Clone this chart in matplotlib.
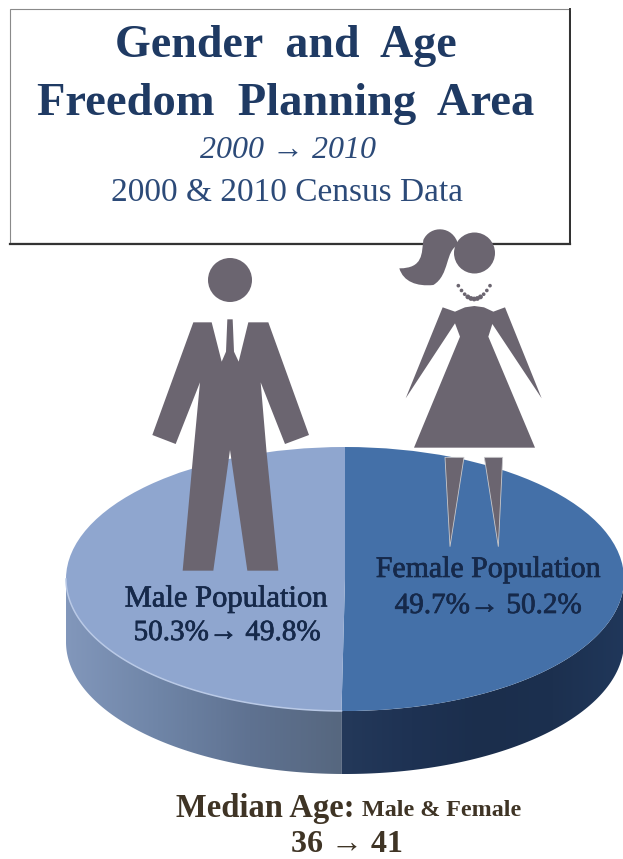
import numpy as np
import matplotlib
matplotlib.use("Agg")
import matplotlib.pyplot as plt
import matplotlib.patheffects as pe
from matplotlib.patches import Polygon, Circle, PathPatch, Rectangle
from matplotlib.path import Path
from matplotlib.colors import LinearSegmentedColormap

# ---- data ----
groups = ["Female Population", "Male Population"]
share_2000 = [49.7, 50.3]
share_2010 = [50.2, 49.8]
median_age = [36, 41]
title_lines = ["Gender  and  Age", "Freedom  Planning  Area"]
subtitle = "2000 \u2192 2010"
source = "2000 & 2010 Census Data"

W, H = 623, 859
NAVY = "#1f3a63"
GREY = "#6b6570"
SERIF = ["Liberation Serif", "DejaVu Serif"]
TOP_COLORS = ["#4470a8", "#8fa6cf"]

fig = plt.figure(figsize=(W / 100, H / 100), dpi=100, facecolor="white")


def pixel_axes(z):
    a = fig.add_axes([0, 0, 1, 1], zorder=z)
    a.set_xlim(0, W)
    a.set_ylim(H, 0)
    a.axis("off")
    a.patch.set_alpha(0)
    return a


bg = pixel_axes(1)
fg = pixel_axes(3)

# ---- header box ----
bg.add_patch(Rectangle((12, 11), 559, 234, fc="#2b2b2b", ec="none", zorder=1))
bg.add_patch(Rectangle((10, 9), 559, 234, fc="white", ec="#8a8a8a", lw=0.8, zorder=2))
fg.plot([569.5, 569.5], [9, 244], color="#333333", lw=1.4, zorder=1)
fg.plot([10, 570], [243.5, 243.5], color="#333333", lw=1.6, zorder=1)

# ---- pie ----
CX, CY, RX, RY, DEPTH = 345, 579, 279, 132, 63

pie_ax = fig.add_axes([(CX - RX) / W, 1 - (CY + RY) / H, 2 * RX / W, 2 * RY / H], zorder=2)
wedges, _ = pie_ax.pie(share_2010, colors=TOP_COLORS, startangle=90, counterclock=False,
                       radius=1, wedgeprops=dict(linewidth=0))
pie_ax.set_aspect("auto")
pie_ax.set_xlim(-1, 1)
pie_ax.set_ylim(-1, 1)
pie_ax.axis("off")
pie_ax.patch.set_alpha(0)

split = wedges[0].theta1 % 360  # lower boundary between the two slices


def side_path(a0, a1):
    t = np.radians(np.linspace(a0, a1, 160))
    x = CX + RX * np.cos(t)
    y = CY - RY * np.sin(t)
    pts = np.r_[np.c_[x, y], np.c_[x[::-1], y[::-1] + DEPTH]]
    return Polygon(pts, closed=True, fc="none", ec="none", transform=bg.transData)


male_cmap = LinearSegmentedColormap.from_list("m", ["#8297bb", "#6f85a7", "#5f7291", "#56677f"])
fem_cmap = LinearSegmentedColormap.from_list("f", ["#24395a", "#1e3253", "#1b2e4c", "#1c304f", "#20375a"])
grad = np.linspace(0, 1, 256)[None, :]
xsplit = CX + RX * np.cos(np.radians(split))

for (a0, a1, x0, x1, cmap) in [(180, split, CX - RX, xsplit, male_cmap),
                               (split, 360, xsplit, CX + RX, fem_cmap)]:
    clip = side_path(a0, a1)
    bg.add_patch(clip)
    im = bg.imshow(grad, extent=[x0, x1, CY + RY + DEPTH + 1, CY - 5], cmap=cmap, aspect="auto", zorder=3)
    im.set_clip_path(clip)
bg.set_xlim(0, W)
bg.set_ylim(H, 0)

# light rim along front of the male slice
t = np.radians(np.linspace(180, split, 100))
fg.plot(CX + RX * np.cos(t), CY - RY * np.sin(t), color="#b9c9e6", lw=1.1, zorder=1)


# ---- pictograms (coordinates measured on a 3x crop) ----
def z(points):
    p = np.asarray(points, float)
    return np.c_[140 + p[:, 0] / 3, 220 + p[:, 1] / 3]


fg.add_patch(Circle((230, 280), 22, fc=GREY, ec="none", zorder=2))
man = [(160, 307), (215, 307), (245, 425), (258, 395), (262, 298), (278, 298), (282, 395), (296, 425),
       (325, 307), (385, 307), (507, 645), (435, 672), (362, 487), (380, 700), (415, 1052), (322, 1052),
       (270, 690), (220, 1052), (128, 1052), (160, 700), (180, 487), (107, 672), (37, 645)]
fg.add_patch(Polygon(z(man), closed=True, fc=GREY, ec="none", zorder=2))

fg.add_patch(Circle((474.5, 253), 20.5, fc=GREY, ec="none", zorder=2))
hair_v = z([(955, 75), (940, 15), (870, 15), (850, 60), (845, 100), (850, 145), (778, 145),
            (790, 185), (830, 200), (880, 195), (930, 165), (915, 90), (955, 75)])
hair_c = [Path.MOVETO, Path.CURVE4, Path.CURVE4, Path.CURVE4, Path.CURVE4, Path.CURVE4, Path.CURVE4,
          Path.CURVE4, Path.CURVE4, Path.CURVE4, Path.CURVE4, Path.CURVE4, Path.CURVE4]
fg.add_patch(PathPatch(Path(hair_v, hair_c), fc=GREY, ec="none", zorder=2))
dress = [(908, 262), (945, 275), (975, 262), (1003, 258), (1032, 262), (1060, 275), (1095, 262), (1205, 535),
         (1057, 312), (1045, 350), (1185, 683), (822, 683), (960, 350), (945, 310), (797, 535)]
fg.add_patch(Polygon(z(dress), closed=True, fc=GREY, ec="none", zorder=2))
for leg in ([(915, 712), (972, 712), (930, 980)], [(1033, 712), (1088, 712), (1075, 980)]):
    fg.add_patch(Polygon(z(leg), closed=True, fc=GREY, ec="#c9c9cc", lw=0.6, zorder=2))
bead_t = np.linspace(0, 1, 11)
bead = z(np.c_[955 + 95 * bead_t, 197 + 40 * (1 - (2 * bead_t - 1) ** 2)])
fg.scatter(bead[:, 0], bead[:, 1], s=[12 if 2 < i < 8 else 7 for i in range(11)], color=GREY, lw=0, zorder=2)

# ---- text ----
T = dict(family=SERIF, ha="center", va="center", zorder=5)
fg.text(286, 46, title_lines[0], fontsize=33, weight="bold", color=NAVY, **T)
fg.text(286, 104, title_lines[1], fontsize=33.5, weight="bold", color=NAVY, **T)
fg.text(288, 151, subtitle, fontsize=23, style="italic", color="#2c4a78", **T)
fg.text(287, 193, source, fontsize=24, color="#2c4a78", **T)

DARK = "#16294a"
semi = [pe.withStroke(linewidth=0.5, foreground=DARK)]
fg.text(488, 570, groups[0], fontsize=21.5, color=DARK, path_effects=semi, **T)
fg.text(488, 606, f"{share_2000[0]}%\u2192 {share_2010[0]}%", fontsize=21, color=DARK, path_effects=semi, **T)
fg.text(226, 599, groups[1], fontsize=22, color=DARK, path_effects=semi, **T)
fg.text(227, 633, f"{share_2000[1]}%\u2192 {share_2010[1]}%", fontsize=21, color=DARK, path_effects=semi, **T)

BROWN = "#3f3425"
fg.text(355, 809, "Median Age:", fontsize=23.5, weight="bold", color=BROWN,
        family=SERIF, ha="right", va="center", zorder=5)
fg.text(362, 811, "Male & Female", fontsize=17.4, weight="bold", color=BROWN,
        family=SERIF, ha="left", va="center", zorder=5)
fg.text(347, 845, f"{median_age[0]} \u2192 {median_age[1]}", fontsize=23, weight="bold", color=BROWN, **T)

fig.savefig("out.png", dpi=100, facecolor="white")
